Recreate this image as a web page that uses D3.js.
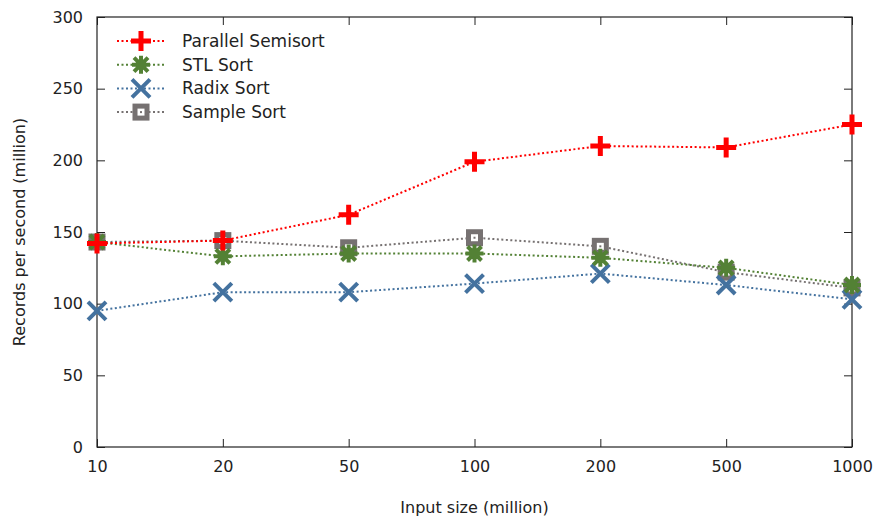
<!DOCTYPE html>
<html>
<head>
<meta charset="utf-8">
<script src="https://cdn.jsdelivr.net/npm/d3@7"></script>
<style>
  body { margin: 0; background: #fff; }
  text { font-family: "DejaVu Sans", sans-serif; fill: #222; }
</style>
</head>
<body>
<svg width="875" height="521"></svg>
<script>
// Data
const sizes = ["10", "20", "50", "100", "200", "500", "1000"];
const parallelSemisort = [142, 144, 162, 199, 210, 209, 225];
const stlSort = [143, 133, 135, 135, 132, 125, 113];
const radixSort = [95, 108, 108, 114, 121, 113, 103];
const sampleSort = [143, 144, 139, 146, 140, 122, 111];
const yTicks = [0, 50, 100, 150, 200, 250, 300];

const series = [
    { name: "Parallel Semisort", values: parallelSemisort, color: "#ff0000", marker: "plus" },
    { name: "STL Sort", values: stlSort, color: "#538135", marker: "star" },
    { name: "Radix Sort", values: radixSort, color: "#44729f", marker: "cross" },
    { name: "Sample Sort", values: sampleSort, color: "#767171", marker: "square" }
];

// Chart dimensions and margins
const margin = { top: 17, right: 23, bottom: 74, left: 97 };
const svgWidth = 875;
const svgHeight = 521;
const w = svgWidth - margin.left - margin.right;
const h = svgHeight - margin.top - margin.bottom;

const svg = d3.select("svg")
    .append("g")
    .attr("transform", `translate(${margin.left}, ${margin.top})`);

// Scales
const xScale = d3.scalePoint()
    .domain(sizes)
    .range([0, w]);

const yScale = d3.scaleLinear()
    .domain([0, 300])
    .range([h, 0]);

// Axes (ticks inside, mirrored on top/right like gnuplot)
const tickLen = 8;
svg.append("g")
    .attr("transform", `translate(0, ${h})`)
    .call(d3.axisBottom(xScale).tickSize(-tickLen).tickPadding(14))
    .call(g => g.select(".domain").remove());
svg.append("g")
    .call(d3.axisTop(xScale).tickSize(-tickLen).tickFormat(""))
    .call(g => g.select(".domain").remove());
svg.append("g")
    .call(d3.axisLeft(yScale).tickValues(yTicks).tickSize(-tickLen).tickPadding(14))
    .call(g => g.select(".domain").remove());
svg.append("g")
    .attr("transform", `translate(${w}, 0)`)
    .call(d3.axisRight(yScale).tickValues(yTicks).tickSize(-tickLen).tickFormat(""))
    .call(g => g.select(".domain").remove());

svg.selectAll(".tick line").attr("stroke", "#222").attr("stroke-width", 1);
svg.selectAll(".tick text").attr("font-size", 16).attr("fill", "#222");

svg.append("rect")
    .attr("width", w)
    .attr("height", h)
    .attr("fill", "none")
    .attr("stroke", "#222")
    .attr("stroke-width", 1.2);

// Axis labels
svg.append("text")
    .attr("x", w / 2)
    .attr("y", h + 66)
    .attr("text-anchor", "middle")
    .attr("font-size", 16)
    .text("Input size (million)");

svg.append("text")
    .attr("transform", `translate(${-72}, ${h / 2}) rotate(-90)`)
    .attr("text-anchor", "middle")
    .attr("font-size", 16)
    .text("Records per second (million)");

// Marker drawing
function drawMarker(g, type, color) {
    if (type === "plus") {
        g.append("path").attr("d", "M-10,0H10M0,-10V10")
            .attr("stroke", color).attr("stroke-width", 5);
    } else if (type === "star") {
        g.append("path").attr("d", "M-9,0H9M0,-9V9M-7,-7L7,7M-7,7L7,-7")
            .attr("stroke", color).attr("stroke-width", 4);
        g.append("circle").attr("r", 5.5).attr("fill", color);
    } else if (type === "cross") {
        g.append("path").attr("d", "M-9,-9L9,9M-9,9L9,-9")
            .attr("stroke", color).attr("stroke-width", 4);
    } else if (type === "square") {
        g.append("rect").attr("x", -6).attr("y", -6).attr("width", 12).attr("height", 12)
            .attr("fill", "#fff").attr("stroke", color).attr("stroke-width", 5);
        g.append("rect").attr("x", -1).attr("y", -1).attr("width", 2).attr("height", 2)
            .attr("fill", color);
    }
}

const line = d3.line()
    .x((d, i) => xScale(sizes[i]))
    .y(d => yScale(d));

// Lines first, then markers on top, in draw order
series.slice().reverse().forEach(s => {
    svg.append("path")
        .datum(s.values)
        .attr("d", line)
        .attr("fill", "none")
        .attr("stroke", s.color)
        .attr("stroke-width", 2)
        .attr("stroke-dasharray", "2,2.5");
});
series.slice().reverse().forEach(s => {
    s.values.forEach((v, i) => {
        const g = svg.append("g")
            .attr("transform", `translate(${xScale(sizes[i])}, ${yScale(v)})`);
        drawMarker(g, s.marker, s.color);
    });
});

// Legend
const legend = svg.append("g").attr("transform", "translate(20, 24)");
series.forEach((s, i) => {
    const row = legend.append("g").attr("transform", `translate(0, ${i * 23.7})`);
    row.append("line")
        .attr("x1", 0).attr("x2", 48)
        .attr("stroke", s.color)
        .attr("stroke-width", 2)
        .attr("stroke-dasharray", "2,2.5");
    const m = row.append("g").attr("transform", "translate(24, 0)");
    drawMarker(m, s.marker, s.color);
    row.append("text")
        .attr("x", 65)
        .attr("dy", "0.35em")
        .attr("font-size", 17)
        .text(s.name);
});
</script>
</body>
</html>
